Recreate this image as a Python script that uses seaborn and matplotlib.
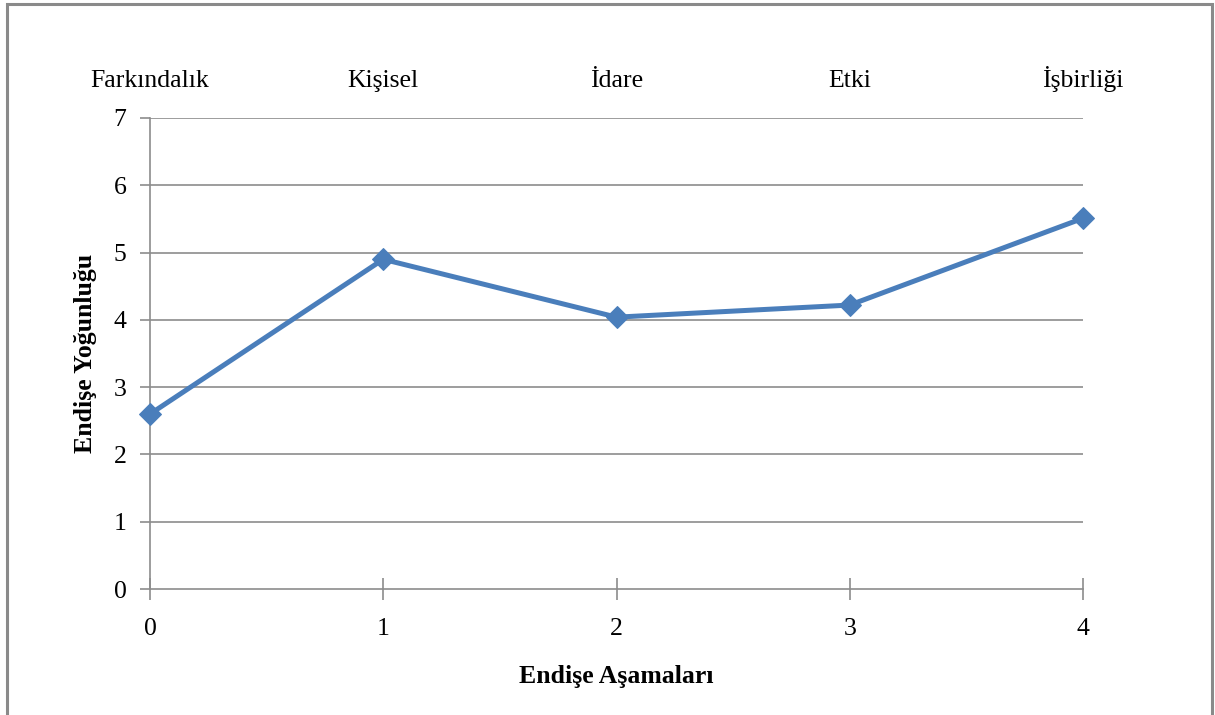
import matplotlib
matplotlib.use("Agg")
import matplotlib.pyplot as plt
import seaborn as sns
import pandas as pd
from matplotlib.patches import Rectangle

# Concern stages and their mean intensity
stages = [0, 1, 2, 3, 4]
stage_names = ["Farkındalık", "Kişisel", "İdare", "Etki", "İşbirliği"]
intensity = [2.6, 4.9, 4.04, 4.22, 5.51]
y_ticks = [0, 1, 2, 3, 4, 5, 6, 7]

sns.set_theme(style="white")
plt.rcParams["font.family"] = ["Liberation Serif", "DejaVu Serif"]
plt.rcParams["text.color"] = "black"
plt.rcParams["axes.labelcolor"] = "black"
plt.rcParams["xtick.labelcolor"] = "black"
plt.rcParams["ytick.labelcolor"] = "black"

df = pd.DataFrame({"stage": stages, "intensity": intensity})

fig = plt.figure(figsize=(12.15, 7.15), dpi=100)
ax = fig.add_axes([150 / 1215, 1 - 589 / 715, (1083 - 150) / 1215, (589 - 118) / 715])

grid_col = "#8c8c8c"
line_col = "#4a7ebb"
fs = 18.5

sns.lineplot(data=df, x="stage", y="intensity", ax=ax, color=line_col,
             linewidth=3.6, marker="D", markersize=11.5, markeredgecolor=line_col,
             zorder=3, clip_on=False)

ax.set_xlim(0, 4)
ax.set_ylim(0, 7)
ax.set_xticks(stages)
ax.set_yticks(y_ticks)
ax.set_xticklabels([str(s) for s in stages])
for y in y_ticks[1:]:
    ax.axhline(y, color=grid_col, linewidth=1.2, zorder=1)

for side in ["top", "right"]:
    ax.spines[side].set_visible(False)
for side in ["left", "bottom"]:
    ax.spines[side].set_color(grid_col)
    ax.spines[side].set_linewidth(1.2)

ax.tick_params(axis="y", direction="out", length=7, width=1.2, color=grid_col,
               labelsize=fs, pad=10, left=True)
ax.tick_params(axis="x", direction="inout", length=16, width=1.2, color=grid_col,
               labelsize=fs, pad=13, bottom=True)

ax.set_xlabel("Endişe Aşamaları", fontsize=fs, fontweight="bold", labelpad=18)
ax.set_ylabel("Endişe Yoğunluğu", fontsize=fs, fontweight="bold", labelpad=12)

# Stage names along the top
top = ax.twiny()
top.set_xlim(ax.get_xlim())
top.set_xticks(stages)
top.set_xticklabels(stage_names)
top.tick_params(axis="x", length=0, labelsize=fs, pad=19)
for side in top.spines.values():
    side.set_visible(False)

# Outer chart frame
fig.patches.append(Rectangle((7 / 1215, -0.01), (1212 - 7) / 1215, 1 - 4 / 715 + 0.01,
                             transform=fig.transFigure, fill=False,
                             edgecolor="#8a8a8a", linewidth=2.2))

fig.savefig("out.png", dpi=100)
